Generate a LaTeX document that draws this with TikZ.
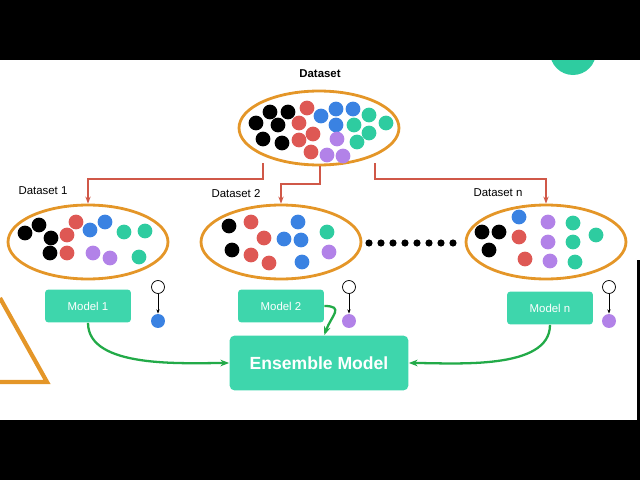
\documentclass[tikz,border=0pt]{standalone}
\usepackage{fontspec}
\setmainfont{Liberation Sans}
\usetikzlibrary{arrows.meta,shapes.geometric}

\definecolor{setring}{RGB}{228,150,40}
\definecolor{splitred}{RGB}{208,88,72}
\definecolor{mteal}{RGB}{62,214,172}
\definecolor{vgreen}{RGB}{34,170,72}
\definecolor{dred}{RGB}{222,88,84}
\definecolor{dblue}{RGB}{58,130,226}
\definecolor{dteal}{RGB}{46,204,160}
\definecolor{dpurple}{RGB}{178,130,232}

\tikzset{
  set/.style={draw=setring, line width=1.6pt, ellipse, minimum width=3.2cm, minimum height=1.48cm},
  split/.style={draw=splitred, line width=0.8pt, -{Stealth[length=4pt]}},
  model/.style={fill=mteal, rounded corners=2pt, text=white, font=\fontsize{6.5}{7}\selectfont,
                minimum width=1.72cm, minimum height=0.66cm},
  vote/.style={draw=vgreen, line width=1.3pt, -{Stealth[length=5pt]}},
  lbl/.style={font=\fontsize{6.5}{7}\selectfont},
}

\newcommand\balls[2]{\foreach \x/\y in {#2} \fill[#1] (\x,\y) circle (7.4);}

\begin{document}
\begin{tikzpicture}[x=0.02cm, y=-0.02cm]

\path [use as bounding box] (0,0) rectangle (640,480);

% BACKGROUND
\fill [dteal] (573,52) circle (23);
\fill [black] (0,0) rectangle (640,60);
\fill [black] (0,420) rectangle (640,480);
\fill [black] (637,260) rectangle (640,420);
\draw [setring, line width=2.4pt] (0,298) -- (47,382) -- (0,382);

% DATASETS
\node [lbl, font=\fontsize{6.5}{7}\selectfont\bfseries] (tit) at (320,74) {Dataset};
\node [set] (all) at (319,128) {};
\node [set] (s1) at (88,242) {};
\node [set] (s2) at (281,242) {};
\node [set] (sn) at (546,242) {};
\node [lbl] (l1) at (43,191) {Dataset 1};
\node [lbl] (l2) at (236,194) {Dataset 2};
\node [lbl] (ln) at (498,193) {Dataset n};

% DOTS
\balls{black}{256/123,270/112,288/112,278/125,263/139,282/143}
\balls{dred}{307/108,299/123,313/134,299/140,311/152}
\balls{dblue}{321/116,336/109,353/109,336/125}
\balls{dteal}{369/115,386/123,354/125,369/133,357/142}
\balls{dpurple}{337/139,327/155,343/156}

\balls{black}{25/233,39/225,51/238,50/253}
\balls{dred}{76/222,67/235,67/253}
\balls{dblue}{90/230,105/222}
\balls{dteal}{124/232,145/231,139/257}
\balls{dpurple}{93/253,110/258}

\balls{black}{229/226,232/250}
\balls{dred}{251/222,264/238,251/255,269/263}
\balls{dblue}{298/222,284/239,301/240,302/262}
\balls{dteal}{327/232}
\balls{dpurple}{329/252}

\balls{black}{482/232,499/232,489/250}
\balls{dred}{519/237,525/259}
\balls{dblue}{519/217}
\balls{dpurple}{548/222,548/242,550/261}
\balls{dteal}{573/223,573/242,596/235,575/262}

\foreach \i in {0,...,7} \fill (369+\i*12,243) circle (3.6);

% SPLITS
\draw [split] (263,163) |- (88,179) -- (s1.north);
\draw [split] (320,166) |- (281,184) -- (s2.north);
\draw [split] (375,163) |- (546,179) -- (sn.north);

% MODELS
\node [model] (m1) at (88,306) {Model 1};
\node [model] (m2) at (281,306) {Model 2};
\node [model] (mn) at (550,308) {Model n};
\node [model, minimum width=3.58cm, minimum height=1.1cm, rounded corners=3pt,
       font=\fontsize{10}{11}\selectfont\bfseries] (ens) at (319,363) {Ensemble Model};

% PREDICTIONS
\foreach \n/\x/\c in {a/158/dblue, b/349/dpurple, c/609/dpurple} {
  \node [circle, draw, line width=0.4pt, fill=white, inner sep=0, minimum size=0.26cm] (q\n) at (\x,287) {};
  \node [circle, fill=\c, inner sep=0, minimum size=0.28cm] (p\n) at (\x,321) {};
  \draw [line width=0.4pt, -{Stealth[length=2.5pt]}] (q\n) -- (p\n);
}

% VOTES
\draw [vote] (m1.south) to[out=-90, in=180, looseness=0.8] (ens.west);
\draw [vote] (mn.south) to[out=-90, in=0, looseness=0.8] (ens.east);
\draw [vote] (m2.east) to[out=0, in=70, looseness=1.8] ([xshift=3]ens.north);

\end{tikzpicture}
\end{document}
